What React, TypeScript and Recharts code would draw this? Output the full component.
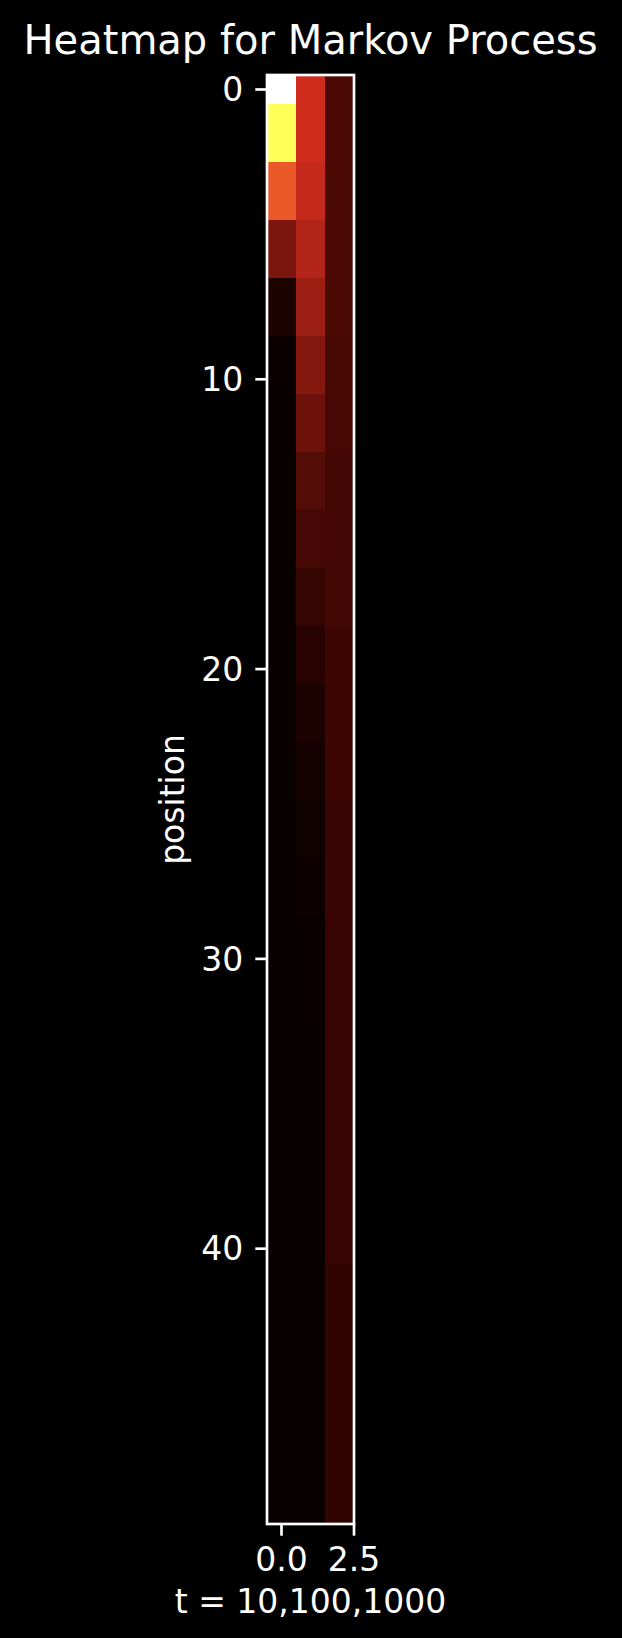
import React from 'react';
import { ScatterChart, Scatter, XAxis, YAxis, ReferenceArea, Label } from 'recharts';

// ---- data ----
const TIMES = ['10', '100', '1000'];
const X_TICKS = [0, 2.5];
const Y_TICKS = [0, 10, 20, 30, 40];

// normalised intensity (0..1) of each position
const T10 = [
  1.0, 0.77, 0.77, 0.475, 0.475, 0.183, 0.183, 0.031, 0.031, 0.002,
  0.002, 0, 0, 0, 0, 0, 0, 0, 0, 0,
  0, 0, 0, 0, 0, 0, 0, 0, 0, 0,
  0, 0, 0, 0, 0, 0, 0, 0, 0, 0,
  0, 0, 0, 0, 0, 0, 0, 0, 0, 0,
];
const T100 = [
  0.323, 0.323, 0.323, 0.303, 0.303, 0.277, 0.277, 0.239, 0.239, 0.2,
  0.2, 0.161, 0.161, 0.122, 0.122, 0.098, 0.098, 0.072, 0.072, 0.05,
  0.05, 0.032, 0.032, 0.02, 0.02, 0.011, 0.011, 0.006, 0.006, 0.003,
  0.003, 0.002, 0.002, 0.001, 0.001, 0.001, 0.001, 0.001, 0.001, 0.001,
  0.001, 0.001, 0.001, 0.001, 0.001, 0.001, 0.001, 0.001, 0.001, 0.001,
];
const T1000 = [
  0.109, 0.109, 0.109, 0.109, 0.109, 0.109, 0.109, 0.109, 0.109, 0.101,
  0.101, 0.101, 0.101, 0.094, 0.094, 0.094, 0.094, 0.094, 0.094, 0.086,
  0.086, 0.086, 0.086, 0.086, 0.086, 0.076, 0.076, 0.076, 0.076, 0.076,
  0.076, 0.076, 0.076, 0.076, 0.076, 0.076, 0.076, 0.076, 0.076, 0.076,
  0.076, 0.066, 0.066, 0.066, 0.066, 0.066, 0.066, 0.066, 0.066, 0.066,
];
const SERIES = [T10, T100, T1000];

// ---- colour map (matplotlib "hot", shown in the reference's display space) ----
function hot(x: number): [number, number, number] {
  const r = x < 0.365079 ? 0.0416 + (1 - 0.0416) * (x / 0.365079) : 1;
  const g = x < 0.365079 ? 0 : x < 0.746032 ? (x - 0.365079) / (0.746032 - 0.365079) : 1;
  const b = x < 0.746032 ? 0 : (x - 0.746032) / (1 - 0.746032);
  return [r, g, b];
}
const lin = (c: number) => (c <= 0.04045 ? c / 12.92 : Math.pow((c + 0.055) / 1.055, 2.4));
const enc = (c: number) => (c <= 0.0031308 ? 12.92 * c : 1.055 * Math.pow(c, 1 / 2.4) - 0.055);
function colorOf(v: number): string {
  const [r, g, b] = hot(Math.max(0, Math.min(1, v))).map(lin);
  const R = 0.8225 * r + 0.1774 * g;
  const G = 0.0332 * r + 0.9669 * g;
  const B = 0.0171 * r + 0.0724 * g + 0.9108 * b;
  const to = (c: number) => Math.round(Math.max(0, Math.min(1, enc(c))) * 255);
  return `rgb(${to(R)},${to(G)},${to(B)})`;
}

const cells = SERIES.flatMap((col, ci) =>
  col.map((v, pi) => ({ t: ci, pos: pi, value: v, label: TIMES[ci] }))
);

// ---- layout ----
const W = 622;
const H = 1638;
const PLOT_L = 267;
const PLOT_R = 354;
const PLOT_T = 75;
const PLOT_B = 1524;
const FONT = 'DejaVu Sans, sans-serif';
const FG = '#ffffff';
const LW = 2.67;

export default function App() {
  return (
    <div style={{ position: 'absolute', left: 0, top: 0, width: W, height: H, background: '#000' }}>
      <ScatterChart
        width={W}
        height={H}
        margin={{ top: PLOT_T, right: W - PLOT_R, bottom: 0, left: 0 }}
        style={{ fontFamily: FONT }}
      >
        <XAxis
          type="number"
          dataKey="t"
          domain={[-0.5, 2.5]}
          allowDataOverflow
          ticks={X_TICKS}
          interval={0}
          tickFormatter={(v: number) => v.toFixed(1)}
          height={H - PLOT_B}
          axisLine={false}
          tickLine={{ stroke: FG, strokeWidth: LW }}
          tickSize={11.7}
          tickMargin={12}
          tick={{ fill: FG, fontSize: 33, fontFamily: FONT }}
        >
          <Label
            content={(p: any) => {
              const vb = p.viewBox || {};
              return (
                <text
                  x={vb.x + vb.width / 2}
                  y={vb.y + 89}
                  textAnchor="middle"
                  fill={FG}
                  fontSize={33}
                  fontFamily={FONT}
                >
                  t = 10,100,1000
                </text>
              );
            }}
          />
        </XAxis>
        <YAxis
          type="number"
          dataKey="pos"
          domain={[-0.5, 49.5]}
          reversed
          allowDataOverflow
          ticks={Y_TICKS}
          interval={0}
          width={PLOT_L}
          axisLine={false}
          tickLine={{ stroke: FG, strokeWidth: LW }}
          tickSize={11.7}
          tickMargin={12}
          tick={{ fill: FG, fontSize: 33, fontFamily: FONT }}
        >
          <Label
            content={(p: any) => {
              const vb = p.viewBox || {};
              const x = vb.x + vb.width - 83;
              const y = vb.y + vb.height / 2;
              return (
                <text
                  x={x}
                  y={y}
                  transform={`rotate(-90 ${x} ${y})`}
                  textAnchor="middle"
                  fill={FG}
                  fontSize={33}
                  fontFamily={FONT}
                >
                  position
                </text>
              );
            }}
          />
        </YAxis>
        {cells.map((c) => (
          <ReferenceArea
            key={`${c.t}-${c.pos}`}
            x1={c.t - 0.5}
            x2={c.t + 0.5}
            y1={c.pos - 0.5}
            y2={c.pos + 0.5}
            ifOverflow="visible"
            shape={(p: any) => (
              <rect
                x={p.x}
                y={p.y}
                width={p.width}
                height={p.height}
                fill={colorOf(c.value)}
                shapeRendering="crispEdges"
              />
            )}
          />
        ))}
        <ReferenceArea
          x1={-0.5}
          x2={2.5}
          y1={-0.5}
          y2={49.5}
          ifOverflow="visible"
          isFront
          shape={(p: any) => (
            <rect x={p.x} y={p.y} width={p.width} height={p.height} fill="none" stroke={FG} strokeWidth={LW} />
          )}
        />
        <Scatter data={cells} isAnimationActive={false} shape={() => <g />} />
      </ScatterChart>
      <svg
        width={W}
        height={70}
        style={{ position: 'absolute', left: 0, top: 0, pointerEvents: 'none' }}
      >
        <text x={(PLOT_L + PLOT_R) / 2} y={54} textAnchor="middle" fill={FG} fontSize={40} fontFamily={FONT}>
          Heatmap for Markov Process
        </text>
      </svg>
    </div>
  );
}
